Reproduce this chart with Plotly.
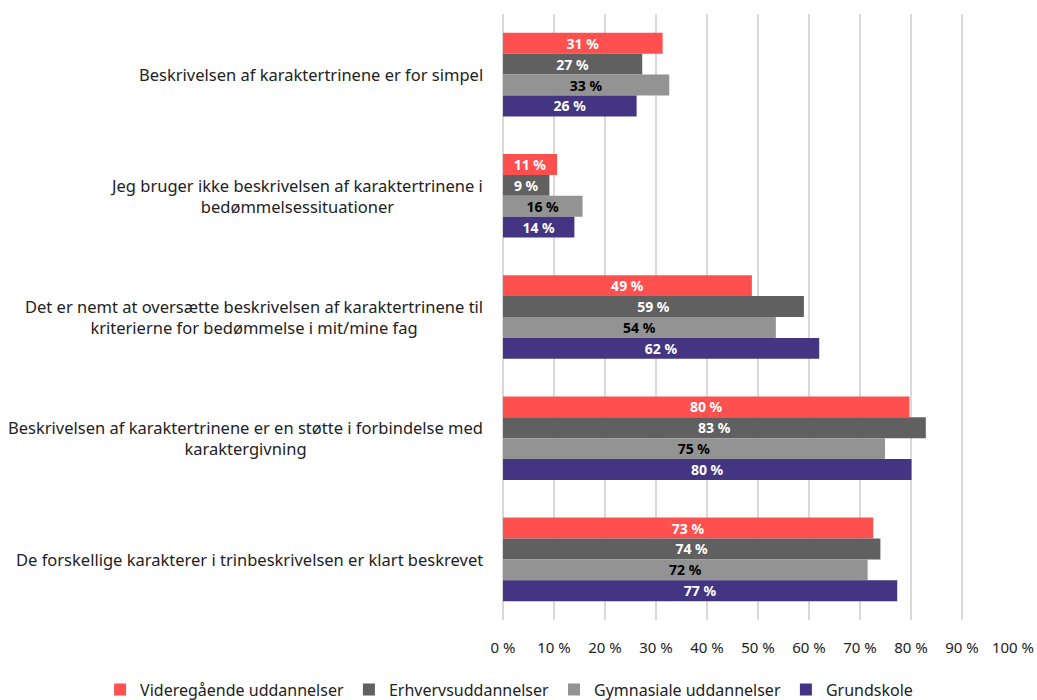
import plotly.graph_objects as go

# Data
categories = [
    "Beskrivelsen af karaktertrinene er for simpel",
    "Jeg bruger ikke beskrivelsen af karaktertrinene i<br>bedømmelsessituationer",
    "Det er nemt at oversætte beskrivelsen af karaktertrinene til<br>kriterierne for bedømmelse i mit/mine fag",
    "Beskrivelsen af karaktertrinene er en støtte i forbindelse med<br>karaktergivning",
    "De forskellige karakterer i trinbeskrivelsen er klart beskrevet",
]
videregaaende = [31.3, 10.6, 48.8, 79.7, 72.6]
erhverv = [27.3, 9.1, 59.0, 82.9, 74.0]
gymnasiale = [32.6, 15.6, 53.5, 74.9, 71.5]
grundskole = [26.2, 14.0, 62.0, 80.1, 77.3]
tick_vals = [0, 10, 20, 30, 40, 50, 60, 70, 80, 90, 100]

series = [
    ("Videregående uddannelser", videregaaende, "#FF5050", "white"),
    ("Erhvervsuddannelser", erhverv, "#606060", "white"),
    ("Gymnasiale uddannelser", gymnasiale, "#939393", "black"),
    ("Grundskole", grundskole, "#433581", "white"),
]

FONT = "Noto Sans"

fig = go.Figure()
for name, vals, color, txtcolor in series:
    fig.add_trace(go.Bar(
        y=categories,
        x=vals,
        name=name,
        orientation="h",
        marker=dict(color=color, line=dict(width=0)),
        text=[f"{int(v + 0.5)} %" for v in vals],
        textposition="inside",
        insidetextanchor="middle",
        textangle=0,
        constraintext="none",
        textfont=dict(family=FONT, size=14, color=txtcolor, weight="bold"),
        hoverinfo="skip",
    ))

# category labels, centred multi-line text left of the axis
for cat in categories:
    fig.add_annotation(
        x=0, xref="paper", y=cat, yref="y",
        text=cat, showarrow=False,
        xanchor="right", xshift=-18, align="center",
        font=dict(family=FONT, size=16.5, color="#222222"),
    )

fig.update_layout(
    width=1037,
    height=700,
    margin=dict(l=503, r=24, t=14, b=80, autoexpand=False),
    paper_bgcolor="white",
    plot_bgcolor="white",
    barmode="group",
    bargap=0.31,
    bargroupgap=0,
    font=dict(family=FONT, size=15, color="#222222"),
    legend=dict(
        orientation="h",
        xref="paper", yref="paper",
        x=-0.79, xanchor="left",
        y=-0.087, yanchor="top",
        font=dict(size=16),
        traceorder="normal",
    ),
    showlegend=True,
)
fig.update_xaxes(
    range=[0, 100],
    tickvals=tick_vals,
    ticktext=[f"{v} %" for v in tick_vals],
    showgrid=True,
    gridcolor="#D9D9D9",
    gridwidth=2,
    zeroline=True,
    zerolinecolor="#D9D9D9",
    zerolinewidth=2,
    showline=False,
    automargin=False,
    ticklabelstandoff=17,
    tickfont=dict(size=15),
)
fig.update_yaxes(
    autorange="reversed",
    showticklabels=False,
    showgrid=False,
    automargin=False,
)

fig.write_html(
    "out.html",
    config={"displayModeBar": False},
    post_script="document.body.style.margin='0px';",
)
